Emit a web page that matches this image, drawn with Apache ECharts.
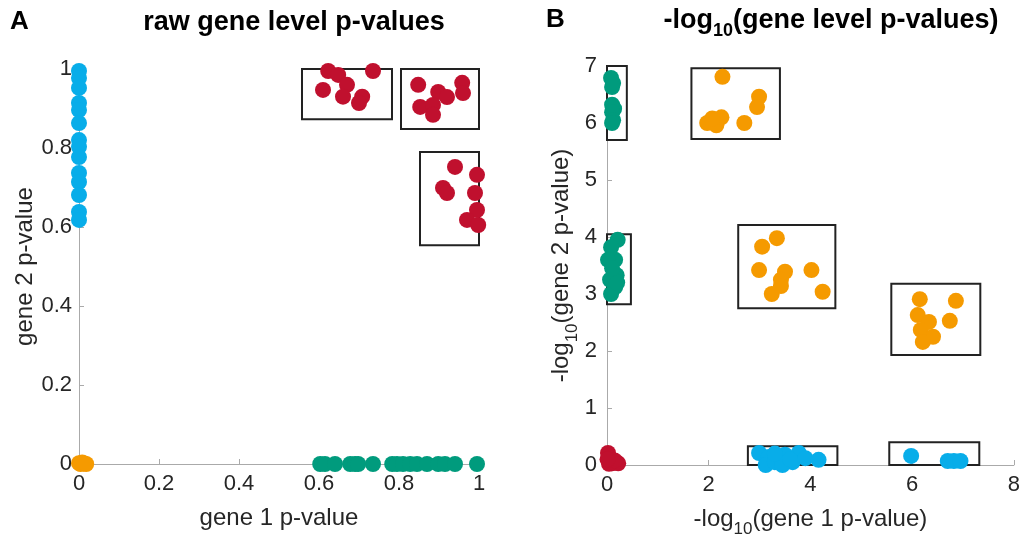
<!DOCTYPE html>
<html><head><meta charset="utf-8">
<script src="https://cdn.jsdelivr.net/npm/echarts@6/dist/echarts.min.js"></script>
<style>html,body{margin:0;padding:0;background:#fff}#c{width:1023px;height:544px}</style>
</head><body><div id="c"></div>
<script>
// ---- Panel A data (raw p-values) ----
const aBlueX = [0,0,0,0,0,0,0,0,0,0,0,0,0,0];
const aBlueY = [0.995,0.977,0.952,0.914,0.896,0.863,0.82,0.803,0.777,0.737,0.714,0.681,0.638,0.618];
const aGreenX = [0.603,0.615,0.64,0.678,0.69,0.698,0.735,0.783,0.795,0.81,0.828,0.845,0.87,0.898,0.915,0.94,0.995];
const aGreenY = [0,0,0,0,0,0,0,0,0,0,0,0,0,0,0,0,0];
const aOrangeX = [0,0.004,0.008,0.013,0.018];
const aOrangeY = [0.002,0,0.004,0.001,0];
const aRedX = [0.623,0.648,0.735,0.61,0.67,0.66,0.708,0.70, 0.848,0.898,0.92,0.958,0.96,0.853,0.885,0.885, 0.94,0.995,0.91,0.92,0.99,0.995,0.97,0.998];
const aRedY = [0.995,0.985,0.995,0.947,0.96,0.93,0.93,0.914, 0.96,0.942,0.929,0.965,0.939,0.904,0.909,0.884, 0.752,0.732,0.699,0.686,0.686,0.643,0.618,0.605];
const aBoxes = [[0.5575,0.873,0.7825,1.035],[0.805,0.848,1.03,1.01],[0.8525,0.554,1.0775,0.79]];
const aXTicks = [0,0.2,0.4,0.6,0.8,1];
const aYTicks = [0,0.2,0.4,0.6,0.8,1];

// ---- Panel B data (-log10 p-values) ----
const bGreenX = [0.08,0.12,0.1,0.1,0.14,0.1,0.12,0.1, 0.21,0.08,0.16,0.02,0.19,0.06,0.16,0.08,0.2,0.1];
const bGreenY = [6.79,6.7,6.63,6.32,6.25,6.19,6.05,6.0, 3.95,3.82,3.6,3.6,3.33,3.25,3.12,3.0,3.2,3.45];
const bOrangeX = [2.27,2.99,2.95,2.70,1.97,2.15,2.25,2.07, 3.34,3.05,2.99,3.5,3.42,3.42,3.24,4.02,4.24, 6.15,6.86,6.11,6.33,6.74,6.17,6.41,6.21];
const bOrangeY = [6.81,6.46,6.28,6.0,6.0,5.96,6.1,6.08, 3.98,3.83,3.42,3.39,3.25,3.14,3.0,3.42,3.04, 2.91,2.88,2.63,2.51,2.53,2.37,2.25,2.16];
const bBlueX = [2.99,3.18,3.12,3.3,3.5,3.77,3.65,3.45,3.9,3.3,3.6,4.16, 5.98,6.7,6.82,6.95];
const bBlueY = [0.21,0.14,0.0,0.05,0.18,0.21,0.05,0.0,0.12,0.2,0.1,0.09, 0.16,0.07,0.07,0.07];
const bRedX = [0.02,0.05,0.1,0.22,0.04,0.15,0.01];
const bRedY = [0.21,0.12,0.03,0.03,0.02,0.08,0.1];
const bGreenBoxes = [[-0.14,5.70,0.39,7.04],[-0.14,2.82,0.47,4.05]];
const bOrangeBoxes = [[1.66,5.72,3.40,6.96],[2.58,2.75,4.49,4.21],[5.59,1.93,7.34,3.18]];
const bBlueBoxes = [[2.77,-0.18,4.53,0.33],[5.55,-0.12,7.32,0.40]];
const bXTicks = [0,2,4,6,8];
const bYTicks = [0,1,2,3,4,5,6,7];

const C = {blue:'#08ADE9', green:'#009B7D', orange:'#F59A00', red:'#C0102E'};
const FONT = '"Liberation Sans", Arial, Helvetica, sans-serif';
const zip = (xs, ys) => xs.map((x,i)=>[x, ys[i]]);
const boxes = bs => ({
  silent: true,
  itemStyle: {color:'rgba(0,0,0,0)', borderColor:'#222', borderWidth:2},
  data: bs.map(b => [{coord:[b[0],b[1]]},{coord:[b[2],b[3]]}])
});
const sc = (name, xi, data, color, mb) => {
  const s = {type:'scatter', name, xAxisIndex:xi, yAxisIndex:xi, data, symbolSize:16, clip:false,
    itemStyle:{color, opacity:1}, emphasis:{disabled:true}, z:3};
  if (mb) s.markArea = boxes(mb);
  return s;
};
const axisCommon = {
  axisLine:{show:true, onZero:false, lineStyle:{color:'#aaaaaa', width:1}},
  axisTick:{show:true, inside:true, length:5, lineStyle:{color:'#aaaaaa'}},
  splitLine:{show:false},
  axisLabel:{color:'#262626', fontSize:22, fontFamily:FONT},
  nameLocation:'middle',
  nameTextStyle:{color:'#262626', fontSize:24, fontFamily:FONT}
};
const sub = {
  a:{fontSize:24, fontFamily:FONT, color:'#262626', verticalAlign:'top', lineHeight:26},
  s:{fontSize:17, fontFamily:FONT, color:'#262626', verticalAlign:'top', lineHeight:18, padding:[14,0,0,0]}
};
const chart = echarts.init(document.getElementById('c'));
chart.setOption({
  animation:false,
  backgroundColor:'#fff',
  grid:[
    {left:79, right:544, top:69, bottom:80},
    {left:607, right:9, top:66, bottom:79}
  ],
  xAxis:[
    Object.assign({}, axisCommon, {gridIndex:0, type:'value', min:aXTicks[0], max:aXTicks[aXTicks.length-1], interval:0.2,
      name:'gene 1 p-value', nameGap:42,
      axisLabel:Object.assign({}, axisCommon.axisLabel, {margin:9})}),
    Object.assign({}, axisCommon, {gridIndex:1, type:'value', min:bXTicks[0], max:bXTicks[bXTicks.length-1], interval:2,
      name:'{a|-log}{s|10}{a|(gene 1 p-value)}', nameGap:42,
      nameTextStyle:Object.assign({}, axisCommon.nameTextStyle, {rich:sub}),
      axisLabel:Object.assign({}, axisCommon.axisLabel, {margin:9})})
  ],
  yAxis:[
    Object.assign({}, axisCommon, {gridIndex:0, type:'value', min:aYTicks[0], max:aYTicks[aYTicks.length-1], interval:0.2,
      name:'gene 2 p-value', nameGap:41,
      axisLabel:Object.assign({}, axisCommon.axisLabel, {margin:7})}),
    Object.assign({}, axisCommon, {gridIndex:1, type:'value', min:bYTicks[0], max:bYTicks[bYTicks.length-1], interval:1,
      name:'{a|-log}{s|10}{a|(gene 2 p-value)}', nameGap:25,
      nameTextStyle:Object.assign({}, axisCommon.nameTextStyle, {rich:sub}),
      axisLabel:Object.assign({}, axisCommon.axisLabel, {margin:10})})
  ],
  series:[
    sc('A blue',0,zip(aBlueX,aBlueY),C.blue),
    sc('A green',0,zip(aGreenX,aGreenY),C.green),
    sc('A orange',0,zip(aOrangeX,aOrangeY),C.orange),
    sc('A red',0,zip(aRedX,aRedY),C.red,aBoxes),
    sc('B green',1,zip(bGreenX,bGreenY),C.green,bGreenBoxes),
    sc('B orange',1,zip(bOrangeX,bOrangeY),C.orange,bOrangeBoxes),
    sc('B blue',1,zip(bBlueX,bBlueY),C.blue,bBlueBoxes),
    sc('B red',1,zip(bRedX,bRedY),C.red)
  ],
  graphic:[
    {type:'text', x:10, y:9, style:{text:'A', font:'bold 26px '+FONT, fill:'#000'}},
    {type:'text', x:294, y:9, style:{text:'raw gene level p-values', font:'bold 27px '+FONT, fill:'#000', textAlign:'center'}},
    {type:'text', x:546, y:7, style:{text:'B', font:'bold 26px '+FONT, fill:'#000'}},
    {type:'text', x:831, y:7, style:{text:'{a|-log}{s|10}{a|(gene level p-values)}', textAlign:'center',
      rich:{a:{font:'bold 27px '+FONT, fill:'#000', verticalAlign:'top', lineHeight:29},
            s:{font:'bold 18px '+FONT, fill:'#000', verticalAlign:'top', lineHeight:20, padding:[15,0,0,0]}}}}
  ]
});
</script></body></html>
